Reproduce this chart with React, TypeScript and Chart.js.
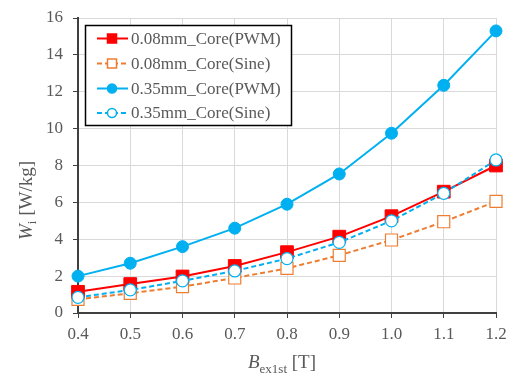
import React, { useEffect, useRef } from "react";
import { Chart, registerables } from "chart.js";

Chart.register(...registerables);

const categories = ["0.4", "0.5", "0.6", "0.7", "0.8", "0.9", "1.0", "1.1", "1.2"];
const core008PWM = [1.15, 1.57, 1.98, 2.55, 3.3, 4.14, 5.25, 6.58, 8.0];
const core008Sine = [0.74, 1.07, 1.43, 1.9, 2.42, 3.13, 3.96, 4.95, 6.05];
const core035PWM = [2.0, 2.7, 3.6, 4.6, 5.9, 7.54, 9.75, 12.35, 15.3];
const core035Sine = [0.85, 1.25, 1.74, 2.28, 2.95, 3.83, 5.0, 6.49, 8.3];
const seriesNames = ["0.08mm_Core(PWM)", "0.08mm_Core(Sine)", "0.35mm_Core(PWM)", "0.35mm_Core(Sine)"];
const yTicks = [0, 2, 4, 6, 8, 10, 12, 14, 16];

const RED = "#FF0000";
const ORANGE = "#ED7D31";
const BLUE = "#00B0F0";
const TEXT = "#595959";
const SERIF = "'Liberation Serif', 'DejaVu Serif', serif";

const AREA = { left: 78, right: 496, top: 18, bottom: 313 };

const areaPlugin = {
  id: "fixedArea",
  afterLayout(chart: any) {
    const ca = chart.chartArea;
    ca.left = AREA.left;
    ca.right = AREA.right;
    ca.top = AREA.top;
    ca.bottom = AREA.bottom;
    ca.width = AREA.right - AREA.left;
    ca.height = AREA.bottom - AREA.top;
    const x = chart.scales.x;
    x.left = AREA.left;
    x.right = AREA.right;
    x.width = AREA.right - AREA.left;
    x.top = AREA.bottom;
    x.bottom = chart.height;
    x.height = chart.height - AREA.bottom;
    x.configure();
    const y = chart.scales.y;
    y.left = 0;
    y.right = AREA.left;
    y.width = AREA.left;
    y.top = AREA.top;
    y.bottom = AREA.bottom;
    y.height = AREA.bottom - AREA.top;
    y.configure();
  },
};

const legendPlugin = {
  id: "customLegend",
  afterDraw(chart: any) {
    const ctx = chart.ctx;
    ctx.save();
    const bx = 85.5, by = 25.5, bw = 206, bh = 100;
    ctx.fillStyle = "#FFFFFF";
    ctx.fillRect(bx, by, bw, bh);
    ctx.strokeStyle = "#000000";
    ctx.lineWidth = 1.5;
    ctx.strokeRect(bx, by, bw, bh);
    const rows = [38.5, 63.5, 88.5, 113];
    chart.data.datasets.forEach((ds: any, i: number) => {
      const y = rows[i];
      ctx.strokeStyle = ds.borderColor;
      ctx.lineWidth = 2;
      ctx.setLineDash(ds.borderDash || []);
      ctx.beginPath();
      ctx.moveTo(97, y);
      ctx.lineTo(128, y);
      ctx.stroke();
      ctx.setLineDash([]);
      const mx = 112;
      ctx.fillStyle = ds.pointBackgroundColor;
      ctx.strokeStyle = ds.pointBorderColor;
      ctx.lineWidth = 1.5;
      if (ds.pointStyle === "rect") {
        ctx.fillRect(mx - 4.5, y - 4.5, 9, 9);
        ctx.strokeRect(mx - 4.5, y - 4.5, 9, 9);
      } else {
        ctx.beginPath();
        ctx.arc(mx, y, 4.5, 0, Math.PI * 2);
        ctx.fill();
        ctx.stroke();
      }
      ctx.fillStyle = TEXT;
      ctx.font = `17px ${SERIF}`;
      ctx.textAlign = "left";
      ctx.textBaseline = "middle";
      ctx.fillText(ds.label, 131, y + 1);
    });
    ctx.restore();
  },
};

function drawParts(ctx: CanvasRenderingContext2D, parts: { t: string; f: string; dy: number }[], x0: number, y0: number) {
  let total = 0;
  parts.forEach((p) => {
    ctx.font = p.f;
    total += ctx.measureText(p.t).width;
  });
  let x = x0 - total / 2;
  parts.forEach((p) => {
    ctx.font = p.f;
    ctx.fillText(p.t, x, y0 + p.dy);
    x += ctx.measureText(p.t).width;
  });
}

const titlePlugin = {
  id: "axisTitles",
  afterDraw(chart: any) {
    const ctx = chart.ctx;
    const area = chart.chartArea;
    ctx.save();
    ctx.fillStyle = TEXT;
    ctx.textAlign = "left";
    ctx.textBaseline = "alphabetic";
    const big = `19px ${SERIF}`;
    const bigIt = `italic 19px ${SERIF}`;
    const small = `13px ${SERIF}`;
    const cx = (area.left + area.right) / 2 - 5;
    drawParts(ctx, [
      { t: "B", f: bigIt, dy: 0 },
      { t: "ex1st", f: small, dy: 5 },
      { t: " [T]", f: big, dy: 0 },
    ], cx, 368);
    ctx.translate(32, (area.top + area.bottom) / 2 + 35);
    ctx.rotate(-Math.PI / 2);
    drawParts(ctx, [
      { t: "W", f: bigIt, dy: 0 },
      { t: "i", f: small, dy: 4 },
      { t: " [W/kg]", f: big, dy: 0 },
    ], 0, 0);
    ctx.restore();
  },
};

export default function App() {
  const ref = useRef<HTMLCanvasElement>(null);
  useEffect(() => {
    if (!ref.current) return;
    const chart = new Chart(ref.current, {
      type: "line",
      data: {
        labels: categories,
        datasets: [
          {
            label: seriesNames[0],
            data: core008PWM,
            borderColor: RED,
            backgroundColor: RED,
            pointBackgroundColor: RED,
            pointBorderColor: RED,
            pointStyle: "rect",
            pointRadius: 9,
            pointBorderWidth: 1,
            borderWidth: 2,
            order: 3,
          } as any,
          {
            label: seriesNames[1],
            data: core008Sine,
            borderColor: ORANGE,
            backgroundColor: "#FFFFFF",
            pointBackgroundColor: "#FFFFFF",
            pointBorderColor: ORANGE,
            pointStyle: "rect",
            pointRadius: 8.5,
            pointBorderWidth: 1.2,
            borderWidth: 2,
            borderDash: [5, 3],
            order: 4,
          } as any,
          {
            label: seriesNames[2],
            data: core035PWM,
            borderColor: BLUE,
            backgroundColor: BLUE,
            pointBackgroundColor: BLUE,
            pointBorderColor: BLUE,
            pointStyle: "circle",
            pointRadius: 6,
            pointBorderWidth: 1,
            borderWidth: 2,
            order: 2,
          } as any,
          {
            label: seriesNames[3],
            data: core035Sine,
            borderColor: BLUE,
            backgroundColor: "#FFFFFF",
            pointBackgroundColor: "#FFFFFF",
            pointBorderColor: BLUE,
            pointStyle: "circle",
            pointRadius: 6,
            pointBorderWidth: 1.2,
            borderWidth: 2,
            borderDash: [5, 3],
            order: 1,
          } as any,
        ],
      },
      options: {
        animation: false,
        responsive: false,
        maintainAspectRatio: false,
        layout: { padding: { left: 0, right: 10, top: 18, bottom: 0 } },
        plugins: {
          legend: { display: false },
          tooltip: { enabled: false },
        },
        scales: {
          x: {
            type: "category",
            offset: false,
            grid: {
              color: "#D9D9D9",
              lineWidth: 1,
              offset: false,
              tickLength: 5,
              tickColor: "#404040",
              drawOnChartArea: true,
            },
            border: { color: "#404040", width: 2 },
            ticks: {
              color: TEXT,
              font: { family: SERIF, size: 17 },
              padding: 6,
              maxRotation: 0,
              autoSkip: false,
            },
            afterFit(scale: any) {
              scale.height = 63;
            },
          },
          y: {
            type: "linear",
            min: 0,
            max: 16,
            afterBuildTicks(scale: any) {
              scale.ticks = yTicks.map((v) => ({ value: v }));
            },
            grid: {
              color: "#D9D9D9",
              lineWidth: 1,
              tickLength: 5,
              tickColor: "#404040",
            },
            border: { color: "#404040", width: 2 },
            ticks: {
              color: TEXT,
              font: { family: SERIF, size: 17 },
              padding: 10,
            },
            afterFit(scale: any) {
              scale.width = 78;
            },
          },
        },
      } as any,
      plugins: [areaPlugin, legendPlugin, titlePlugin],
    });
    return () => chart.destroy();
  }, []);
  return (
    <div style={{ position: "absolute", left: 0, top: 0, width: 506, height: 376, background: "#FFFFFF" }}>
      <canvas ref={ref} width={506} height={376} style={{ display: "block" }} />
    </div>
  );
}
